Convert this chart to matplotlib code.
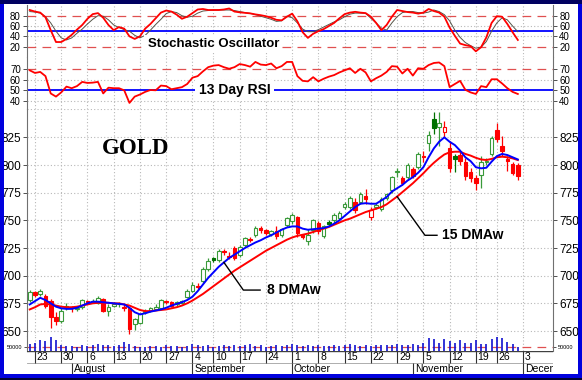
import matplotlib
matplotlib.use('Agg')
import matplotlib.pyplot as plt
from matplotlib.patches import Rectangle
import numpy as np
import pandas as pd

plt.rcParams['font.family'] = ['Liberation Sans', 'DejaVu Sans']

# trading days Jul 20 - Dec 7 2007 (Labor Day and Thanksgiving closed)
days = pd.bdate_range('2007-07-20', '2007-12-07').drop(pd.to_datetime(['2007-09-03', '2007-11-22']))

opens = [678, 685, 683, 682, 677.5, 663, 659.5, 671, 671.5, 670, 672, 677, 676, 675, 679, 668, 673, 674, 672, 671,
         656, 657, 667, 668, 670, 671, 677, 676, 674, 675, 681, 686, 690, 695, 706, 716, 714, 722, 718, 725,
         719, 727.5, 733, 736.5, 743, 741, 738, 740, 737, 746, 749, 753, 737, 731, 741, 748, 736, 748.5, 750, 752,
         762, 762, 767, 767, 772, 753, 762, 760, 770, 777, 794, 788, 789, 796, 798, 808, 820, 842, 834, 830,
         815, 808, 809, 803, 794, 788, 791, 803, 810, 832, 817, 805, 801, 800]
highs = [687, 686, 688, 683, 679, 667, 671, 675, 673, 673, 679, 678, 679, 682, 680, 674, 676, 676, 674, 672,
         662, 666, 670, 672, 674, 679, 678, 677, 677, 678, 688, 694, 693, 708, 716, 717, 724, 724, 721, 727,
         728, 735, 735, 745, 745, 742, 741, 745, 743, 753, 757, 754, 738, 742, 751, 749, 746, 750, 757, 758,
         767, 772, 770, 776, 778, 762, 766, 771, 775, 790, 797, 790, 802, 798, 812, 813, 831, 848, 848, 840,
         822, 810, 813, 806, 797, 791, 808, 806, 826, 838, 826, 808, 803, 802]
lows = [676, 681, 682, 671, 653, 655, 657, 669, 667, 668, 670, 674, 675, 674, 667, 664, 672, 672, 668, 647,
        651, 656, 665, 667, 669, 670, 674, 672, 673, 674, 680, 685, 688, 693, 704, 712, 712, 719, 715, 714,
        717, 726, 730, 735, 739, 737, 736, 733, 735, 744, 747, 735, 733, 728, 739, 738, 734, 746, 748, 750,
        760, 760, 757, 765, 765, 750, 760, 758, 768, 775, 789, 782, 787, 788, 796, 803, 813, 828, 817, 825,
        794, 794, 800, 786, 785, 777, 779, 800, 808, 821, 808, 795, 791, 786]
closes = [685, 682.5, 686.5, 673, 663, 659, 668.5, 673, 670.5, 671, 678, 676, 677, 680, 668, 672, 674.5, 674.5, 671, 652,
          661, 665, 668, 671, 672, 678, 676, 673, 676, 677, 686, 692, 690.5, 706, 713, 714.5, 722, 721, 717, 716,
          726, 734, 732, 743, 741, 739, 740, 736, 742, 752, 755, 739, 735, 737, 750, 740, 745, 747, 755, 757,
          765, 770, 759, 774, 769, 759, 764, 769, 774, 789, 795, 784, 800, 790, 810, 807, 827, 833, 838, 834,
          797, 805, 804, 790, 788, 784, 803, 804, 824, 823.5, 813, 804, 793, 790]

ma8 = [674, 677, 680, 678, 675, 672, 670.5, 670, 670, 671, 673, 675, 676.5, 676.5, 676, 675.5, 675, 674.5, 674, 671,
       667, 665, 666, 667.5, 668.5, 669.5, 671, 673, 674.5, 676, 678, 681, 686, 692, 698, 703, 708, 712, 716, 719,
       722, 725, 727.5, 730, 732, 734.5, 736.5, 739, 741.5, 743.5, 744.5, 744.5, 742.5, 741.5, 742, 742.5, 743, 744.5, 747, 750,
       754, 758, 762, 765, 765.5, 765, 765, 768, 771, 776, 779, 782, 786, 789, 793, 798, 807, 815, 821, 825,
       821, 818, 813, 807, 803.5, 798, 797, 797.5, 803, 808, 810, 809, 807, 805]
ma15 = [669.5, 671.5, 674, 674.5, 674, 673, 672, 671.5, 671.5, 672, 673, 674, 675, 675.5, 675.5, 675.5, 675, 675, 674, 673,
        671, 669, 668, 668, 668.5, 669, 669.5, 670.5, 671.5, 673, 675, 677.5, 680.5, 683.5, 687, 690.5, 694, 697.5, 701, 704.5,
        707.5, 710.5, 713.5, 716.5, 719.5, 722.5, 725, 727.5, 730, 732.5, 734.5, 736, 737, 738, 739.5, 741, 742.5, 744, 746, 748,
        750, 751.5, 753.5, 755.5, 757.5, 759, 760.5, 762, 764.5, 768, 771.5, 775.5, 779.5, 783.5, 788, 792.5, 797.5, 802, 806, 809.5,
        811.5, 812, 812, 810, 808.5, 806.5, 805, 804.5, 805.5, 807, 807.5, 807, 806, 804.5]

stoch_k = [91, 88, 86, 77, 52, 29, 29, 35, 43, 53, 62, 74, 83, 85, 76, 62, 52, 58, 55, 40,
           35, 40, 55, 64, 75, 86, 90, 88, 82, 74, 78, 85, 92, 93, 91, 91, 91, 92, 94, 88,
           86.5, 85.5, 84.5, 82.5, 81, 79, 76, 72, 71, 78, 84, 69, 48, 37, 45, 50, 54, 60, 66, 75,
           83, 86, 87.5, 86, 85, 78, 66, 52, 62, 78, 91, 89, 87, 86, 84, 86, 93, 89, 86, 78,
           57, 41, 26, 23, 21, 11, 19, 38, 66, 79, 78, 64, 48, 33]
stoch_d = [88, 87, 85, 78, 66, 50, 37, 33, 37, 46, 54, 64, 73, 80, 79, 72, 62, 57, 53, 50,
           42, 37, 42, 52, 63, 73, 84, 88, 86, 80, 77, 79, 85, 89, 90, 91, 91, 91, 91, 90,
           88, 86, 84.5, 82, 79, 76, 73, 69, 70, 79, 76, 66, 54, 49, 49, 53, 58, 63, 68, 72,
           78, 83, 85, 85, 84.5, 75, 66, 56, 52, 66, 78, 86, 88, 88, 86, 85, 87, 91, 88, 82,
           70, 52, 38, 28, 22, 17, 19, 30, 50, 66, 76, 72, 60, 49]
rsi = [69, 66.5, 67.5, 63.5, 47, 44, 48, 53.5, 52, 54, 58, 57, 57.3, 58, 47, 52.5, 52, 52, 50, 38,
       44, 46, 48.5, 50.3, 50, 54.5, 54, 51, 52, 53, 56, 62, 63.5, 68, 72, 73.5, 74, 72, 70.5, 72,
       75, 74, 72.5, 77, 74.5, 74, 75.5, 71, 73, 77, 77, 63.5, 59, 58.5, 62.5, 58.5, 61, 63, 64.5, 67,
       69, 71, 66.5, 70.5, 67, 58.5, 61.5, 64, 67.5, 73, 72.5, 66, 70.5, 64, 71, 70.5, 74, 76, 76.5, 73,
       53, 56, 59, 50.5, 48, 46.5, 54, 53, 60.5, 60.5, 56.5, 52, 48.5, 46.5]
volume = [67, 83, 107, 100, 140, 110, 57, 50, 50, 43, 57, 50, 57, 67, 57, 57, 50, 57, 90, 67,
          50, 43, 43, 50, 50, 43, 57, 50, 50, 43, 50, 67, 57, 50, 57, 43, 50, 57, 50, 57,
          50, 57, 67, 50, 57, 43, 50, 57, 50, 57, 67, 57, 50, 57, 50, 57, 50, 50, 57, 50,
          57, 67, 57, 50, 57, 50, 57, 57, 57, 57, 67, 57, 60, 73, 57, 77, 127, 117, 83, 117,
          100, 77, 107, 77, 77, 110, 67, 67, 117, 145, 133, 90, 67, 40]
vol_avg = 43

n = len(closes)
idx = np.arange(n)
opens, highs, lows, closes = map(np.array, (opens, highs, lows, closes))

week_starts = [i for i in range(1, len(days)) if days[i].isocalendar()[1] != days[i - 1].isocalendar()[1]]
month_starts = [i for i in range(1, len(days)) if days[i].month != days[i - 1].month]

W, H = 582, 380
XLIM = (-0.52, 99.7)
GRID = dict(color='#b8b8b8', lw=0.8, ls=(0, (1, 2)), zorder=0)

fig = plt.figure(figsize=(W / 100, H / 100), dpi=100)
fig.patch.set_facecolor('white')


def panel(top, bottom, labelsize=8.5):
    a = fig.add_axes([27 / W, 1 - bottom / H, 526 / W, (bottom - top) / H])
    a.set_xlim(*XLIM)
    a.set_xticks([])
    for s in ('top', 'bottom'):
        a.spines[s].set_visible(False)
    for s in ('left', 'right'):
        a.spines[s].set_color('#707070')
        a.spines[s].set_linewidth(0.8)
    a.tick_params(axis='y', left=True, right=True, labelleft=True, labelright=True,
                  direction='out', length=3, width=0.7, color='#505050', labelsize=labelsize, pad=1.5)
    for w in week_starts:
        a.axvline(w, **GRID)
    return a


# stochastic oscillator
ax_st = panel(5, 57, labelsize=7)
ax_st.set_ylim(0, 100.7)
ax_st.set_yticks([20, 40, 60, 80])
for v in (40, 60):
    ax_st.axhline(v, **GRID)
for v in (20, 80):
    ax_st.axhline(v, color='#e05050', lw=0.9, ls=(0, (7, 5)), zorder=1)
ax_st.axhline(50, color='#0000ff', lw=1.3, zorder=1)
ax_st.plot(idx, stoch_d, color='#555548', lw=0.7, zorder=3)
ax_st.plot(idx, stoch_k, color='#ff0000', lw=1.3, zorder=4)
ax_st.text(35, 25, 'Stochastic Oscillator', ha='center', va='center', fontsize=9.5, fontweight='bold',
           zorder=5, bbox=dict(boxstyle='square,pad=0.25', fc='white', ec='none'))

# RSI
ax_rsi = panel(57, 109, labelsize=7)
ax_rsi.set_ylim(32.2, 81.7)
ax_rsi.set_yticks([40, 50, 60, 70])
for v in (40, 60):
    ax_rsi.axhline(v, **GRID)
ax_rsi.axhline(70, color='#e05050', lw=0.9, ls=(0, (7, 5)), zorder=1)
ax_rsi.axhline(50, color='#0000ff', lw=1.3, zorder=1)
ax_rsi.plot(idx, rsi, color='#ff0000', lw=1.3, zorder=4)
ax_rsi.text(39, 50, '13 Day RSI', ha='center', va='center', fontsize=10, fontweight='bold',
            zorder=5, bbox=dict(boxstyle='square,pad=0.25', fc='white', ec='none'))

# price
ax = panel(109, 336)
ax.set_ylim(645.5, 850.6)
ax.set_yticks(np.arange(650, 826, 25))
for v in np.arange(650, 826, 25):
    ax.axhline(v, **GRID)
ax.axhline(850.6, **GRID)

prev = np.r_[closes[0], closes[:-1]]
for i in range(n):
    o, h, l, c = opens[i], highs[i], lows[i], closes[i]
    hollow = c > o
    if c >= prev[i]:
        col = '#3a9a3a' if hollow else '#007000'
    else:
        col = '#ff0000'
    ax.vlines(i, l, h, color=col, lw=0.9, zorder=3)
    ax.bar(i, max(abs(c - o), 0.6), width=0.7, bottom=min(o, c),
           facecolor='white' if hollow else col, edgecolor=col, lw=0.8, zorder=4)

ax.plot(idx, ma15, color='#ff0000', lw=1.4, zorder=5)
ax.plot(idx, ma8, color='#0000ff', lw=1.4, zorder=6)

ax.text(20.1, 815, 'GOLD', ha='center', va='center', fontsize=16.5, fontweight='bold',
        family='Liberation Serif')

ax.plot([37, 40.7, 43.9], [ma8[37], 687, 687], color='black', lw=1.0, zorder=7)
ax.text(45.2, 687, '8 DMAw', ha='left', va='center', fontsize=10, fontweight='bold')
ax.plot([70, 75.3, 77.6], [ma15[70], 736.5, 736.5], color='black', lw=1.0, zorder=7)
ax.text(78.5, 736.5, '15 DMAw', ha='left', va='center', fontsize=10, fontweight='bold')

# volume
ax_vol = panel(336, 351)
ax_vol.set_ylim(0, 150)
ax_vol.set_yticks([vol_avg])
ax_vol.set_yticklabels(['50000'])
ax_vol.tick_params(axis='y', labelsize=4, length=2)
ax_vol.axhline(vol_avg, color='#e05050', lw=0.9, ls=(0, (7, 5)), zorder=1)
ax_vol.vlines(idx, 0, volume, color='#1010d0', lw=1.2, zorder=3)

# date axis
ax_dt = fig.add_axes([27 / W, 1 - 374 / H, 526 / W, 23 / H])
ax_dt.set_xlim(*XLIM)
ax_dt.set_ylim(0, 23)
ax_dt.axis('off')
ax_dt.axhline(23, color='#404040', lw=1.0)
ax_dt.axhline(11, color='#a0a0a0', lw=0.6)
for w in week_starts:
    ax_dt.vlines(w, 11, 23, color='#303030', lw=0.8)
    ax_dt.text(w + 0.35, 17, str(days[w].day), ha='left', va='center', fontsize=7.5, clip_on=True)
for m in month_starts:
    ax_dt.vlines(m, 0, 11, color='#303030', lw=0.8)
    ax_dt.text(m + 0.35, 5.3, days[m].strftime('%B'), ha='left', va='center', fontsize=7.5, clip_on=True)


# blue frame
def frame(x0, y0, x1, y1, col):
    fig.add_artist(Rectangle((x0 / W, 1 - y1 / H), (x1 - x0) / W, (y1 - y0) / H,
                             transform=fig.transFigure, fc=col, ec='none', zorder=20))


frame(0, 0, 4, H, '#0000dd')
frame(W - 4, 0, W, H, '#0000dd')
frame(0, 0, W, 4, '#000060')
frame(0, 374, W, 378, '#0000dd')
frame(0, 378, W, H, '#000030')

fig.savefig('out.png', dpi=100)
